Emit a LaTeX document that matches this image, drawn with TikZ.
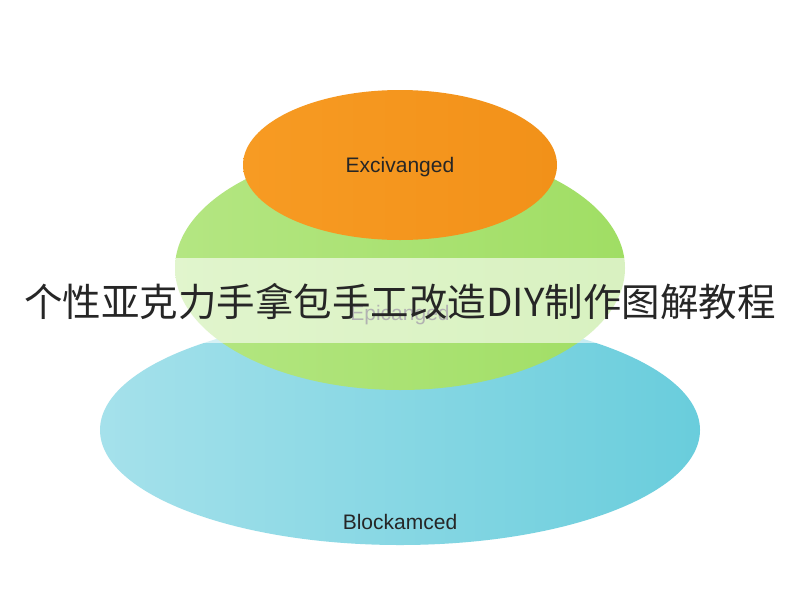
\documentclass[tikz,border=0pt]{standalone}
\usepackage{fontspec}
\setmainfont{Liberation Sans}
\newfontfamily\cjk{Noto Sans CJK SC}
\definecolor{blL}{RGB}{165,225,235}
\definecolor{blR}{RGB}{105,205,220}
\definecolor{grL}{RGB}{180,230,130}
\definecolor{grR}{RGB}{160,222,100}
\definecolor{orL}{RGB}{247,155,35}
\definecolor{orR}{RGB}{242,145,25}
\begin{document}
\begin{tikzpicture}[x=1pt,y=-1pt,
  lab/.style={font=\fontsize{21}{24}\selectfont, text=black!85}]
\useasboundingbox (0,0) rectangle (800,600);
\fill[white] (0,0) rectangle (800,600);
\shade[left color=blL, right color=blR] (400,430) ellipse [x radius=300, y radius=115];
\shade[left color=grL, right color=grR] (400,268) ellipse [x radius=225, y radius=122];
\shade[left color=orL, right color=orR] (400,165) ellipse [x radius=157, y radius=75];
\node[lab] (top) at (400,167) {Excivanged};
\node[lab] (bot) at (400,522) {Blockamced};
\fill[white, opacity=0.6] (0,258) rectangle (800,343);
\node[lab, text=black!30] (mid) at (400,315) {Epicanged};
\node[font=\cjk\fontsize{38.5}{44}\selectfont, text=black!85] (title) at (400,302) {个性亚克力手拿包手工改造DIY制作图解教程};
\end{tikzpicture}
\end{document}
